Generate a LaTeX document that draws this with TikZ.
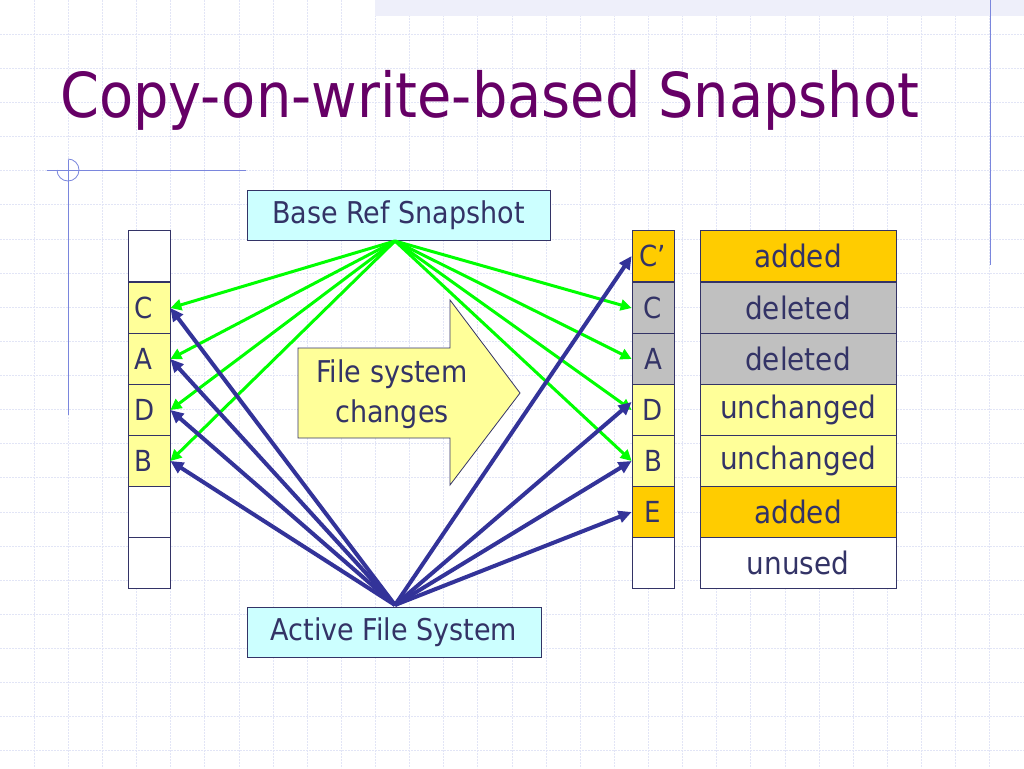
\documentclass[tikz,border=0pt]{standalone}
\usepackage{fontspec}
\setmainfont{DejaVu Sans}
\usetikzlibrary{arrows.meta}
\definecolor{txt}{HTML}{333366}
\definecolor{ttl}{HTML}{660066}
\definecolor{lyel}{HTML}{FFFF99}
\definecolor{org}{HTML}{FFCC00}
\definecolor{gry}{HTML}{C0C0C0}
\definecolor{cyn}{HTML}{CCFFFF}
\definecolor{grn}{HTML}{00FF00}
\definecolor{nav}{HTML}{333399}
\definecolor{gridc}{HTML}{E2E5F6}
\definecolor{deco}{HTML}{7A86DD}
\begin{document}
\begin{tikzpicture}[x=1pt,y=-1pt,
  cell/.style={draw=txt,line width=0.8pt,minimum width=42pt,minimum height=51pt,inner sep=0pt,font=\fontsize{29}{31}\selectfont\addfontfeature{FakeStretch=0.9},text=txt},
  lab/.style={draw=txt,line width=0.8pt,minimum width=196pt,minimum height=51pt,inner sep=0pt,font=\fontsize{31}{33}\selectfont\addfontfeature{FakeStretch=0.9},text=txt},
  box/.style={draw=txt,line width=0.8pt,fill=cyn,inner sep=0pt,font=\fontsize{30}{32}\selectfont\addfontfeature{FakeStretch=0.9},text=txt},
  ga/.style={grn,line width=3pt,-{Triangle[length=11pt,width=11pt]}},
  ba/.style={nav,line width=4pt,-{Triangle[length=13pt,width=12pt]}}]
\useasboundingbox (0,0) rectangle (1024,768);
\fill[white] (0,0) rectangle (1024,768);
\foreach \i in {1,...,30} {\draw[gridc,dash pattern=on 2pt off 1pt,line width=0.8pt] (\i*34.13,0) -- (\i*34.13,768);}
\foreach \i in {1,...,22} {\draw[gridc,dash pattern=on 2pt off 1pt,line width=0.8pt] (0,\i*34.13) -- (1024,\i*34.13);}
\fill[gridc!60] (375,0) rectangle (1024,16);
\draw[deco,line width=0.8pt] (990,0) -- (990,265);
\draw[deco,line width=0.8pt] (47,170) -- (246,170);
\draw[deco,line width=0.8pt] (68,160) -- (68,415);
\draw[deco,line width=0.8pt] (68,159) arc (-90:180:11);
\node[anchor=west,text=ttl,font=\fontsize{62}{66}\selectfont\addfontfeature{FakeStretch=0.9},inner sep=0pt] (title) at (60,100) {Copy-on-write-based Snapshot};
\foreach \n/\y/\t/\f in {l0/256/{}/white,l1/308/C/lyel,l2/359/A/lyel,l3/410/D/lyel,l4/461/B/lyel,l5/512/{}/white,l6/563/{}/white}
  {\node[cell,fill=\f,text width=30pt,align=left] (\n) at (149,\y) {\t};}
\foreach \n/\y/\t/\f in {r0/256/C’/org,r1/308/C/gry,r2/359/A/gry,r3/410/D/lyel,r4/461/B/lyel,r5/512/E/org,r6/563/{}/white}
  {\node[cell,fill=\f] (\n) at (653,\y) {\t};}
\foreach \n/\y/\t/\f in {t0/256/added/org,t1/308/deleted/gry,t2/359/deleted/gry,t3/410/unchanged/lyel,t4/461/unchanged/lyel,t5/512/added/org,t6/563/unused/white}
  {\node[lab,fill=\f] (\n) at (798,\y) {\t};}
\node[box,minimum width=303pt,minimum height=50pt] (base) at (398.5,215) {Base Ref Snapshot};
\node[box,minimum width=294pt,minimum height=50pt] (afs) at (394,632) {Active File System};
\draw[txt,line width=0.8pt,fill=lyel] (298,348) -- (450,348) -- (450,300) -- (520,393) -- (450,485) -- (450,438) -- (298,438) -- cycle;
\node[text=txt,font=\fontsize{30}{40}\selectfont\addfontfeature{FakeStretch=0.9},align=center] (fsc) at (392,394) {File system\\changes};
\coordinate (bs) at (395,241);
\coordinate (as) at (395,605);
\foreach \t in {l1,l2,l3,l4} \draw[ga] (bs) -- (\t.east);
\foreach \t in {r1,r2,r3,r4} \draw[ga] (bs) -- (\t.west);
\foreach \t in {l1,l2,l3,l4} \draw[ba] (as) -- (\t.east);
\draw[ba] (as) -- (r0.west);
\draw[ba] (as) -- ([yshift=8pt]r3.west);
\draw[ba] (as) -- (r4.west);
\draw[ba] (as) -- (r5.west);
\end{tikzpicture}
\end{document}
